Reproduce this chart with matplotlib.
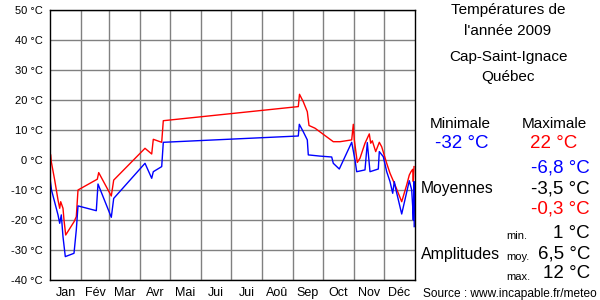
import numpy as np
import matplotlib
matplotlib.use("Agg")
import matplotlib.pyplot as plt

plt.rcParams['font.family'] = ['Liberation Sans', 'DejaVu Sans']

# Day of year (0 = 1 Jan) and daily maximum temperature (red)
max_days = [0, 0.7, 1.3, 4.7, 8, 9.7, 10.7, 13, 14, 15.7, 24, 26.3, 28, 47.3, 48.7,
            61.3, 63.7, 95, 101.7, 103.3, 111.7, 113.3, 248.3, 249.5, 253.3, 257.3,
            259, 265, 283.3, 290, 301.7, 303.3, 304.3, 307.3, 310, 315, 319.3, 320.7,
            322.3, 325.7, 329.3, 331.7, 336.7, 340, 345, 351.7, 356.7, 359.3, 361,
            362.7, 363.3, 364]
max_temp = [2.2, 1.7, -0.6, -6.7, -13.3, -16.1, -13.9, -16.1, -20, -25, -20.6, -18.9, -10,
            -6.4, -4.2, -12, -6.7, 3.9, 2, 6.9, 5.9, 13.1, 17.8, 21.9, 19.4, 16.1,
            11.5, 10.6, 6.1, 6.1, 6.7, 11.9, 6.7, -0.8, 0.6, 5.6, 8.7, 5.6,
            6.4, 2.8, 5.9, 4.4, -1.1, -4.4, -8.3, -13.9, -8.3, -5, -3.9,
            -3.1, -7.2, -2.2]

# Daily minimum temperature (blue)
min_days = [0, 1.5, 8, 9.7, 11.3, 13, 15.3, 24, 26.3, 28, 46.3, 48, 61.3, 63.7, 95,
            101.7, 103.3, 111.7, 113.3, 248.3, 249.3, 253.3, 257.3, 258.3, 270, 281.7,
            283.3, 289.3, 301.7, 305, 306.7, 315, 317.3, 320, 328.3, 329.3, 333.3,
            336.7, 340, 342.7, 344.3, 346, 351.7, 359.3, 361.7, 362.7, 363.3, 364, 364.2]
min_temp = [-6.1, -10, -18.3, -21.1, -18.3, -25.6, -32.2, -31.1, -23.3, -15.3, -16.9, -8,
            -19.1, -12.8, -1.1, -6.1, -3.9, -2.2, 5.9, 8, 11.9, 9.4, 6.7, 1.7, 1.3, 1.0,
            -1.1, -3, 5.9, 0, -3.9, -3.3, 5.8, -3.9, -3, 2.8, 1.1,
            -3.9, -7.2, -11.1, -7.2, -10, -18, -6.9, -10, -15.6, -20, -7.2, -22.2]

months = ["Jan", "Fév", "Mar", "Avr", "Mai", "Jui", "Jui", "Aoû", "Sep", "Oct", "Nov", "Déc"]
month_len = [31, 28, 31, 30, 31, 30, 31, 31, 30, 31, 30, 31]
y_ticks = [-40, -30, -20, -10, 0, 10, 20, 30, 40, 50]

W, H = 600, 300
fig = plt.figure(figsize=(6, 3), dpi=100)
ax = fig.add_axes([50 / W, 20 / H, 365 / W, 270 / H])

month_starts = np.concatenate([[0], np.cumsum(month_len)])
month_mid = (month_starts[:-1] + month_starts[1:]) / 2

ax.set_xlim(0, 365)
ax.set_ylim(-40, 50)
ax.set_xticks(month_starts[1:-1])
ax.set_xticklabels([])
ax.set_yticks(y_ticks)
ax.set_yticklabels(["%d °C" % t for t in y_ticks], fontsize=8)
ax.tick_params(length=0, pad=5)
ax.grid(True, color="#808080", linewidth=1)
ax.set_axisbelow(True)
for s in ax.spines.values():
    s.set_color("black")
    s.set_linewidth(1)

# month labels centred in each month, just under the axis
for m, name in zip(month_mid, months):
    ax.text(m, -42.2, name, ha="center", va="top", fontsize=9, clip_on=False)

ax.plot(max_days, max_temp, color="red", linewidth=1)
ax.plot(min_days, min_temp, color="blue", linewidth=1)


def put(x, y, s, **kw):
    fig.text(x / W, 1 - y / H, s, va="center", **kw)


put(508, 10, "Températures de", ha="center", fontsize=11)
put(508, 31, "l'année 2009", ha="center", fontsize=11)
put(508, 57, "Cap-Saint-Ignace", ha="center", fontsize=11)
put(508, 77, "Québec", ha="center", fontsize=11)

put(460, 124, "Minimale", ha="center", fontsize=11)
put(554, 124, "Maximale", ha="center", fontsize=11)
put(462, 144, "-32 °C", ha="center", fontsize=13.5, color="blue")
put(554, 144, "22 °C", ha="center", fontsize=13.5, color="red")

put(590, 168, "-6,8 °C", ha="right", fontsize=13.5, color="blue")
put(421, 189, "Moyennes", ha="left", fontsize=11.3)
put(590, 189, "-3,5 °C", ha="right", fontsize=13.5, color="black")
put(590, 209, "-0,3 °C", ha="right", fontsize=13.5, color="red")

put(421, 255, "Amplitudes", ha="left", fontsize=11.5)
put(506, 236, "min.", ha="left", fontsize=8)
put(506, 257, "moy.", ha="left", fontsize=8)
put(506, 277, "max.", ha="left", fontsize=8)
put(590, 233, "1 °C", ha="right", fontsize=13.5)
put(590, 254, "6,5 °C", ha="right", fontsize=13.5)
put(590, 274, "12 °C", ha="right", fontsize=13.5)

put(597, 294, "Source : www.incapable.fr/meteo", ha="right", fontsize=8.6)

fig.savefig("out.png", dpi=100)
